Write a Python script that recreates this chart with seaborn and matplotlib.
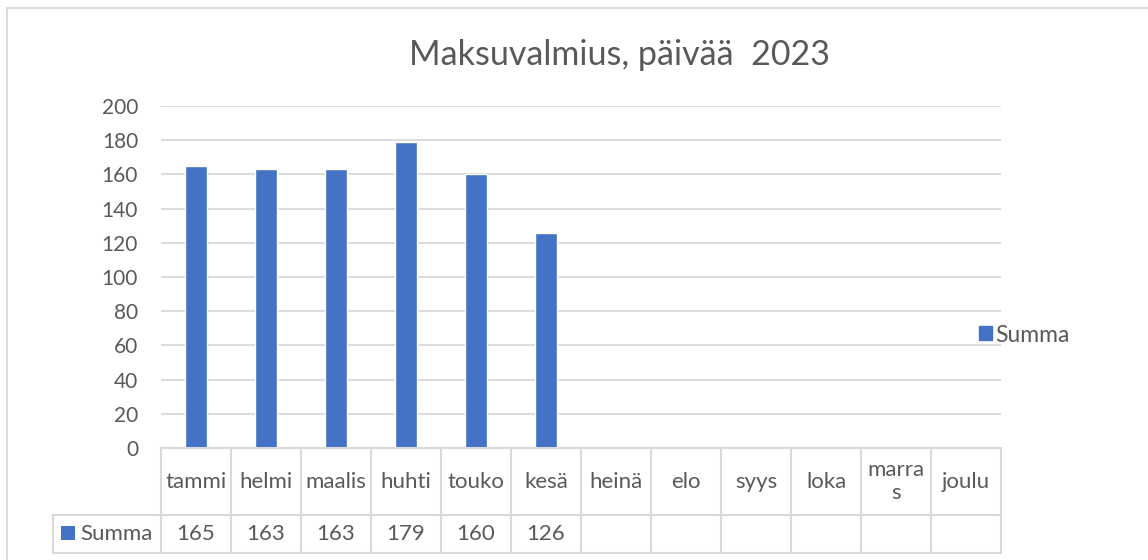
import matplotlib
matplotlib.use("Agg")
import matplotlib.pyplot as plt
from matplotlib.patches import Patch, Rectangle
import seaborn as sns
import pandas as pd

months = ["tammi", "helmi", "maalis", "huhti", "touko", "kesä",
          "heinä", "elo", "syys", "loka", "marras", "joulu"]
month_labels = ["tammi", "helmi", "maalis", "huhti", "touko", "kesä",
                "heinä", "elo", "syys", "loka", "marra\ns", "joulu"]
values = [165, 163, 163, 179, 160, 126]
series_name = "Summa"
title = "Maksuvalmius, päivää  2023"
yticks = [0, 20, 40, 60, 80, 100, 120, 140, 160, 180, 200]

BAR = "#4472C4"
TXT = "#595959"
GRID = "#D9D9D9"

sns.set_theme(style="white")
plt.rcParams["font.family"] = ["Lato", "DejaVu Sans"]

W, H = 1148, 560
fig = plt.figure(figsize=(W / 100, H / 100), dpi=100)
fig.patch.set_facecolor("white")

# outer chart border (left and top edges visible)
fig.add_artist(plt.Line2D([7 / W, 7 / W], [0, 1 - 8 / H], transform=fig.transFigure,
                          color=GRID, lw=1.3))
fig.add_artist(plt.Line2D([7 / W, 1], [1 - 8 / H, 1 - 8 / H], transform=fig.transFigure,
                          color=GRID, lw=1.3))

px_l, px_r, px_t, px_b = 161, 1001, 106, 448
ax = fig.add_axes([px_l / W, (H - px_b) / H, (px_r - px_l) / W, (px_b - px_t) / H])

df = pd.DataFrame({"month": months[:len(values)], "value": values})
sns.barplot(data=df, x="month", y="value", order=months, color=BAR,
            width=0.31, saturation=1, ax=ax)
ax.set_xlim(-0.5, 11.5)
ax.set_ylim(0, 200)
ax.set_yticks(yticks)
ax.set_yticklabels([str(t) for t in yticks], color=TXT, fontsize=15)
ax.tick_params(axis="y", length=0, pad=16.5)
ax.set_xticks([])
ax.set_xlabel("")
ax.set_ylabel("")
for s in ax.spines.values():
    s.set_visible(False)
for t in yticks[1:]:
    ax.axhline(t, color=GRID, lw=1.3, zorder=0)
ax.set_axisbelow(True)

fig.text(619 / W, 1 - 55 / H, title, ha="center", va="center", fontsize=24.5, color=TXT)

ax.legend(handles=[Patch(facecolor=BAR, edgecolor=BAR, label=series_name)],
          loc="center left", bbox_to_anchor=(968 / W, 1 - 335 / H),
          bbox_transform=fig.transFigure, frameon=False, handlelength=0.55,
          handleheight=0.55, handletextpad=0.15, borderpad=0, fontsize=16.5,
          labelcolor=TXT)

# data table
tl, tr, tt, tb = 53, 1001, 448, 553
unit = (px_r - px_l) / 12.0
x0 = -0.5 - (px_l - tl) / unit
tax = fig.add_axes([tl / W, (H - tb) / H, (tr - tl) / W, (tb - tt) / H])
tax.set_xlim(x0, 11.5)
tax.set_ylim(tb - tt, 0)
tax.axis("off")
row1 = 515 - tt
row2 = tb - tt
lw = 1.5
tax.plot([-0.5, 11.5], [0, 0], color=GRID, lw=lw, clip_on=False)
tax.plot([x0, 11.5], [row1, row1], color=GRID, lw=lw, clip_on=False)
tax.plot([x0, 11.5], [row2, row2], color=GRID, lw=lw, clip_on=False)
for k in range(13):
    tax.plot([-0.5 + k, -0.5 + k], [0, row2], color=GRID, lw=lw, clip_on=False)
tax.plot([x0, x0], [row1, row2], color=GRID, lw=lw, clip_on=False)

for i, lab in enumerate(month_labels):
    tax.text(i, row1 / 2, lab, ha="center", va="center", fontsize=16, color=TXT,
             linespacing=1.2)
for i, v in enumerate(values):
    tax.text(i, (row1 + row2) / 2, str(v), ha="center", va="center", fontsize=16, color=TXT)

sq_x = x0 + (61 - tl) / unit
sq_w = 14 / unit
tax.add_patch(Rectangle((sq_x, 526 - tt), sq_w, 14, facecolor=BAR, edgecolor="none",
                        clip_on=False))
tax.text(x0 + (80 - tl) / unit, (row1 + row2) / 2, series_name, ha="left", va="center",
         fontsize=16, color=TXT)

fig.savefig("out.png", dpi=100)
